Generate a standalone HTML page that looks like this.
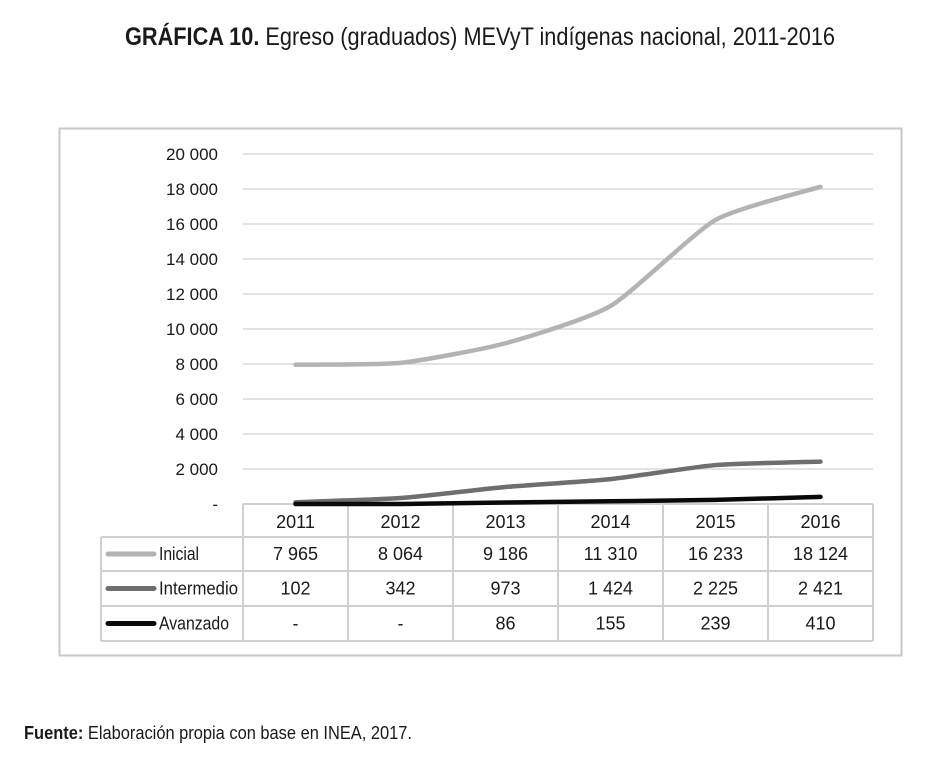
<!DOCTYPE html>
<html><head><meta charset="utf-8"><style>
body{margin:0;background:#fff;width:936px;height:756px;overflow:hidden;font-family:"Liberation Sans Narrow","Liberation Sans",sans-serif}
svg text{font-family:"Liberation Sans Narrow","Liberation Sans",sans-serif;fill:#1a1a1a}
</style></head><body>
<svg width="936" height="756">
<text x="480" y="45" text-anchor="middle" font-size="25" textLength="710" lengthAdjust="spacingAndGlyphs"><tspan font-weight="bold">GRÁFICA 10.</tspan> Egreso (graduados) MEVyT indígenas nacional, 2011-2016</text>
<rect x="59.5" y="128.5" width="842" height="527" fill="none" stroke="#c8c8c8" stroke-width="2"/>
<g id="grid"></g><g id="yticks"></g><g id="table"></g><g id="lines"></g>
<text x="24" y="739" font-size="18" textLength="388" lengthAdjust="spacingAndGlyphs"><tspan font-weight="bold">Fuente:</tspan> Elaboración propia con base en INEA, 2017.</text>
</svg>
<script>
const categories=["2011","2012","2013","2014","2015","2016"];
const inicial=[7965,8064,9186,11310,16233,18124];
const intermedio=[102,342,973,1424,2225,2421];
const avanzado=[0,0,86,155,239,410];
const inicialLabels=["7 965","8 064","9 186","11 310","16 233","18 124"];
const intermedioLabels=["102","342","973","1 424","2 225","2 421"];
const avanzadoLabels=["-","-","86","155","239","410"];
const yTicks=[0,2000,4000,6000,8000,10000,12000,14000,16000,18000,20000];
const yTickLabels=["-","2 000","4 000","6 000","8 000","10 000","12 000","14 000","16 000","18 000","20 000"];
const NS="http://www.w3.org/2000/svg";
const X0=243,CW=105,Y0=504,YT=154,YMAX=20000;
const x=i=>X0+CW*i+CW/2;
const y=v=>Y0-(v/YMAX)*(Y0-YT);
function mk(tag,attrs,parent,txt){const e=document.createElementNS(NS,tag);for(const k in attrs)e.setAttribute(k,attrs[k]);if(txt!==undefined)e.textContent=txt;document.getElementById(parent).appendChild(e);return e;}
yTicks.forEach((t,i)=>{
  if(t>0){const g=mk('line',{x1:X0,x2:873,y1:y(t),y2:y(t),stroke:'#d0d0d0','stroke-width':1.3},'grid');
  
  }
  const l=mk('text',{x:218,y:y(t)+6,'text-anchor':'end','font-size':17},'yticks',yTickLabels[i]);
  
  
});
const tb='#cfcfcf';
function ln(x1,y1,x2,y2){const e=mk('line',{x1,y1,x2,y2,stroke:tb,'stroke-width':2},'table');

}
const rows=[504,537,571,606,641];
ln(X0,504,873,504);
for(let r=1;r<rows.length;r++)ln(101,rows[r],873,rows[r]);
ln(101,537,101,641);
for(let c=0;c<=6;c++)ln(X0+CW*c,504,X0+CW*c,641);
categories.forEach((c,i)=>{const t=mk('text',{x:x(i),y:528,'text-anchor':'middle','font-size':18},'table',c);

});
const series=[
 {name:'Inicial',vals:inicial,labels:inicialLabels,color:'#b3b3b3',w:40},
 {name:'Intermedio',vals:intermedio,labels:intermedioLabels,color:'#6e6e6e',w:79},
 {name:'Avanzado',vals:avanzado,labels:avanzadoLabels,color:'#0a0a0a',w:70}];
function smooth(pts){let d=`M${pts[0][0]},${pts[0][1]}`;for(let i=0;i<pts.length-1;i++){const p0=pts[i-1]||pts[i],p1=pts[i],p2=pts[i+1],p3=pts[i+2]||p2;const c1=[p1[0]+(p2[0]-p0[0])/10,p1[1]+(p2[1]-p0[1])/10],c2=[p2[0]-(p3[0]-p1[0])/10,p2[1]-(p3[1]-p1[1])/10];d+=` C${c1[0]},${c1[1]} ${c2[0]},${c2[1]} ${p2[0]},${p2[1]}`;}return d;}
series.forEach((s,k)=>{
  const p=mk('path',{d:smooth(s.vals.map((v,i)=>[x(i),y(v)])),fill:'none',stroke:s.color,'stroke-width':4.5,'stroke-linecap':'round'},'lines');
  
  
  const cy=(rows[k+1]+rows[k+2])/2;
  const lk=mk('line',{x1:108,x2:154,y1:cy,y2:cy,stroke:s.color,'stroke-width':5,'stroke-linecap':'round'},'table');
  
  
  const lt=mk('text',{x:159,y:cy+6,'font-size':18,textLength:s.w,lengthAdjust:'spacingAndGlyphs'},'table',s.name);
  
  
  s.labels.forEach((v,i)=>{const t=mk('text',{x:x(i),y:cy+6,'text-anchor':'middle','font-size':18},'table',v);
  
  });
});
</script>
</body></html>
